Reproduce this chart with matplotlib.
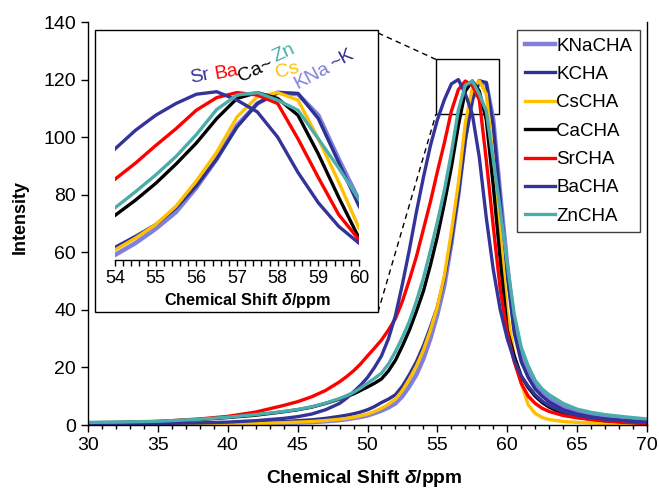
import matplotlib
matplotlib.use("Agg")
import matplotlib.pyplot as plt
from matplotlib.patches import Rectangle
from matplotlib.ticker import MultipleLocator

plt.rcParams['font.family'] = ['Liberation Sans', 'DejaVu Sans']
plt.rcParams['mathtext.fontset'] = 'custom'
plt.rcParams['mathtext.rm'] = 'Liberation Sans'
plt.rcParams['mathtext.bf'] = 'Liberation Sans:bold'
plt.rcParams['mathtext.bfit'] = 'Liberation Sans:bold:italic'

# chemical shift grid (ppm)
shift = [30, 32, 35, 38, 40, 42, 44, 45, 46, 47, 48, 48.5, 49, 49.5, 50, 50.5, 51, 51.5,
         52, 52.5, 53, 53.5, 54, 54.5, 55, 55.5, 56, 56.5, 57, 57.5, 58, 58.5, 59, 59.5,
         60, 60.5, 61, 61.5, 62, 62.5, 63, 64, 65, 66, 67, 68.5, 70]

kna = [0.1, 0.1, 0.15, 0.22, 0.3, 0.45, 0.7, 0.85, 1.0, 1.3, 1.7, 2.0, 2.4, 2.8, 3.3, 4.1, 5.0, 6.1,
       7.5, 10, 13.5, 17.5, 23, 30, 38.5, 48.5, 63, 80, 100, 113, 119.5, 118.5, 106, 80,
       55.5, 34, 24, 18, 13.5, 11, 9, 6.2, 4.5, 3.4, 2.6, 1.9, 1.4]
k = [0.2, 0.25, 0.35, 0.5, 0.6, 0.85, 1.2, 1.5, 1.8, 2.3, 3.0, 3.4, 3.9, 4.5, 5.3, 6.4, 7.8, 9,
     10.5, 13.5, 17.5, 22, 27.5, 34, 41, 51, 64, 80, 99, 113, 119.5, 119, 104, 78,
     52, 32, 22, 16.5, 12.5, 10, 8, 5.3, 3.8, 2.8, 2.1, 1.4, 0.9]
cs = [0.1, 0.1, 0.15, 0.22, 0.3, 0.5, 0.8, 1.0, 1.2, 1.55, 2.0, 2.3, 2.7, 3.2, 3.8, 4.7, 5.8, 7.2,
      9, 12, 16, 20.5, 26, 33, 41, 52, 67, 84, 105, 117, 119.5, 115, 92, 66.5,
      39, 24, 14.5, 7, 4, 2.6, 1.9, 1.2, 0.9, 0.7, 0.5, 0.3, 0.1]
ca = [0.8, 0.9, 1.2, 1.9, 2.6, 3.4, 4.6, 5.3, 6.2, 7.5, 9.0, 9.9, 10.8, 12, 13.2, 14.5, 16, 18.8,
      22.5, 27.5, 33, 39.5, 46.5, 55.5, 65.5, 77, 89.5, 104, 116, 119.5, 116, 106, 83, 57.3,
      33, 24, 17, 13, 10, 7.8, 6.2, 4.0, 2.7, 2.0, 1.5, 1.0, 0.7]
sr = [0.6, 0.75, 1.2, 2.1, 3.0, 4.5, 6.8, 8.1, 9.8, 12, 15, 16.8, 18.8, 21.2, 24, 26.7, 29.5, 33,
      37, 43, 50.5, 58.5, 68, 77.5, 88, 98, 109, 116.5, 119.5, 118, 113, 92, 69, 47,
      32, 22, 14.5, 10, 7.5, 5.8, 4.7, 3.3, 2.5, 1.9, 1.4, 0.9, 0.5]
ba = [0.3, 0.35, 0.5, 0.75, 1.0, 1.5, 2.3, 2.9, 3.8, 5.3, 7.5, 9.3, 11.5, 13.8, 16.5, 20, 24, 30,
      38, 49, 61, 74, 86, 97, 106, 113, 118.5, 120, 115, 108, 93, 72, 54, 40,
      30, 22.5, 17, 13.5, 10.5, 8.3, 6.7, 4.6, 3.4, 2.6, 2.0, 1.4, 1.0]
zn = [0.9, 1.0, 1.3, 2.0, 2.7, 3.6, 4.7, 5.4, 6.3, 7.6, 9.2, 10.2, 11.3, 12.8, 14.5, 16.2, 18, 21.2,
      25.5, 30.5, 36, 43, 51, 60.5, 70.5, 81.5, 94.5, 109.4, 118, 119.5, 115, 109, 92, 74.7,
      56, 38.5, 27, 20.5, 15.5, 12.5, 10.5, 7.5, 5.5, 4.4, 3.6, 2.8, 2.1]

names = ['KNaCHA', 'KCHA', 'CsCHA', 'CaCHA', 'SrCHA', 'BaCHA', 'ZnCHA']
series = [kna, k, cs, ca, sr, ba, zn]
colors = ['#8080DC', '#2E3192', '#FFC000', '#000000', '#FF0000', '#333399', '#4BACAC']
widths = [3.2, 2.4, 2.4, 2.4, 2.4, 2.4, 2.4]

fig = plt.figure(figsize=(6.59, 4.9), dpi=100)
ax = fig.add_axes([88/659, 1-425/490, 559/659, 403/490])

for name, y, c, lw in zip(names, series, colors, widths):
    ax.plot(shift, y, color=c, lw=lw, label=name, solid_joinstyle='round')

ax.set_xlim(30, 70)
ax.set_ylim(0, 140)
ax.xaxis.set_major_locator(MultipleLocator(5))
ax.xaxis.set_minor_locator(MultipleLocator(1))
ax.yaxis.set_major_locator(MultipleLocator(20))
ax.tick_params(axis='both', which='major', direction='out', length=5, width=1, labelsize=14)
ax.tick_params(axis='x', which='minor', direction='out', length=3, width=1)
ax.spines['top'].set_visible(False)
for s in ['left', 'bottom', 'right']:
    ax.spines[s].set_linewidth(1)

fig.text(20/659, 1-217/490, 'Intensity', rotation=90, ha='center', va='center',
         fontsize=13, fontweight='bold')
fig.text(364/659, 1-478/490, r'Chemical Shift $\mathbfit{\delta}$/ppm', ha='center',
         va='center', fontsize=13.8, fontweight='bold')

leg = ax.legend(loc='upper left', bbox_to_anchor=(517/659, 1-30/490),
                bbox_transform=fig.transFigure, fontsize=13.5, frameon=True,
                fancybox=False, edgecolor='#404040', framealpha=1,
                handlelength=1.6, handletextpad=0.1, labelspacing=0.6,
                borderpad=0.4, borderaxespad=0)
leg.get_frame().set_linewidth(1)

# zoom box and connectors
ax.add_patch(Rectangle((54.9, 108), 4.5, 19, fill=False, edgecolor='black', lw=1, clip_on=False))
ax.plot([50.75, 54.9], [136.2, 127], color='black', lw=1, ls=(0, (4, 3)), clip_on=False)
ax.plot([50.75, 54.9], [39.2, 108], color='black', lw=1, ls=(0, (4, 3)), clip_on=False)

# inset frame
fig.add_artist(Rectangle((95/659, 1-312/490), 283/659, 282/490, transform=fig.transFigure,
                         facecolor='white', edgecolor='black', lw=1, zorder=2))

axin = fig.add_axes([115/659, 1-260/490, 244/659, 225/490])
axin.set_zorder(3)
axin.patch.set_alpha(0)
for y, c, lw in zip(series, colors, widths):
    axin.plot(shift, y, color=c, lw=lw, solid_joinstyle='round')
axin.set_xlim(54, 60)
axin.set_ylim(20, 153.7)
axin.set_yticks([])
axin.xaxis.set_major_locator(MultipleLocator(1))
axin.xaxis.set_minor_locator(MultipleLocator(0.2))
axin.tick_params(axis='x', which='both', direction='out', length=4, width=1, labelsize=13)
for s in ['left', 'top', 'right']:
    axin.spines[s].set_visible(False)
axin.spines['bottom'].set_linewidth(1)

fig.text(248/659, 1-300/490, r'Chemical Shift $\mathbfit{\delta}$/ppm', ha='center',
         va='center', fontsize=11.7, fontweight='bold', zorder=4)

# inset peak labels
labels = [('Sr', '#333399', 200, 77, 12), ('Ba', '#FF0000', 226, 72, 10),
          ('Ca~', '#000000', 256, 70, 25), ('Zn', '#4BACAC', 284, 53, 25),
          ('Cs', '#FFC000', 287, 71, 15), ('KNa', '#8080DC', 312, 76, 28),
          ('~K', '#2E3192', 342, 59, 28)]
for txt, c, px, py, rot in labels:
    fig.text(px/659, 1-py/490, txt, color=c, fontsize=14, rotation=rot,
             ha='center', va='center', zorder=4)

fig.savefig('out.png', dpi=100)
